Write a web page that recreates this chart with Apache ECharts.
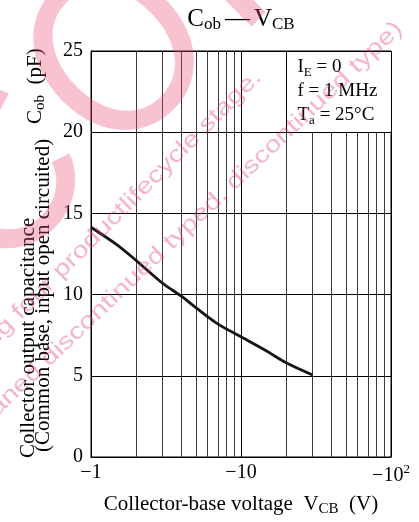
<!DOCTYPE html>
<html><head><meta charset="utf-8">
<script src="https://cdn.jsdelivr.net/npm/echarts@6/dist/echarts.min.js"></script>
<style>html,body{margin:0;padding:0;background:#fff}#c{width:419px;height:522px}</style>
</head><body><div id="c"></div>
<script>
// ---- data ----
const vcb = [1, 1.5, 2, 3, 4, 5, 7, 10, 15, 20, 30];          // |V_CB| (V)
const cob = [14.15, 13.05, 12.1, 10.7, 9.9, 9.2, 8.2, 7.4, 6.5, 5.8, 5.05]; // pF
const yTickLabels = ['0', '5', '10', '15', '20', '25'];
const xTickLabels = ['−1', '−10', '−10'];
const xMajor = [1, 10, 100];
const xMinor = [2, 3, 4, 5, 6, 7, 8, 9, 20, 30, 40, 50, 60, 70, 80, 90];
const conditionLines = [['I', 'E', ' = 0'], ['f = 1 MHz', '', ''], ['T', 'a', ' = 25°C']];
const boxX = [20, 100];
const boxY = [20, 25];

const SERIF = '"Liberation Serif", "Times New Roman", serif';
const GL = 91, GT = 51, GW = 300, GH = 406;

const chart = echarts.init(document.getElementById('c'), null, {renderer: 'canvas'});

const option = {
  backgroundColor: '#fff',
  animation: false,
  grid: {left: GL, top: GT, width: GW, height: GH, show: true, borderColor: '#000', borderWidth: 1, backgroundColor: 'transparent'},
  xAxis: {
    type: 'log', logBase: 10, min: 1, max: 100,
    axisLine: {show: true, lineStyle: {color: '#000', width: 1}},
    axisTick: {show: false},
    splitLine: {show: true, lineStyle: {color: '#000', width: 1}},
    axisLabel: {
      margin: 6, color: '#000', fontFamily: SERIF, fontSize: 20,
      formatter: function (v) {
        const i = xMajor.indexOf(Math.round(v));
        if (i < 0) return '';
        return i === 2 ? '{n|' + xTickLabels[i] + '}{sup|2}' : '{n|' + xTickLabels[i] + '}';
      },
      rich: {
        n: {fontFamily: SERIF, fontSize: 20, color: '#000'},
        sup: {fontFamily: SERIF, fontSize: 13, color: '#000', padding: [0, 0, 12, 0]}
      }
    }
  },
  yAxis: {
    type: 'value', min: 0, max: 25, interval: 5,
    axisLine: {show: true, lineStyle: {color: '#000', width: 1}},
    axisTick: {show: false},
    splitLine: {show: true, lineStyle: {color: '#000', width: 1}},
    axisLabel: {margin: 8, color: '#000', fontFamily: SERIF, fontSize: 20,
      formatter: function (v) { return yTickLabels[Math.round(v / 5)]; }}
  },
  series: [
    {
      type: 'line', data: [], z: 1, silent: true,
      markLine: {
        silent: true, symbol: ['none', 'none'], animation: false,
        label: {show: false},
        lineStyle: {color: '#3a3a3a', width: 1, type: 'solid'},
        emphasis: {disabled: true},
        data: xMinor.map(v => ({xAxis: v}))
      }
    },
    {
      type: 'line', z: 5, silent: true,
      data: vcb.map((x, i) => [x, cob[i]]),
      smooth: 0.3, showSymbol: false,
      lineStyle: {color: '#161616', width: 2.8}
    }
  ]
};
chart.setOption(option);

const p1 = chart.convertToPixel({gridIndex: 0}, [boxX[0], boxY[1]]);
const p2 = chart.convertToPixel({gridIndex: 0}, [boxX[1], boxY[0]]);
const bx = Math.round(p1[0]) + 0.5, by = Math.round(p1[1]) + 0.5;
const bw = Math.round(p2[0]) - Math.round(p1[0]), bh = Math.round(p2[1]) - Math.round(p1[1]);

const subRich = (fs, sub, pad) => ({
  m: {fontFamily: SERIF, fontSize: fs, fill: '#000', color: '#000'},
  s: {fontFamily: SERIF, fontSize: sub, fill: '#000', color: '#000', padding: [pad, 0, 0, 0]},
  d: {fontFamily: SERIF, fontSize: fs, fill: '#000', color: '#000', padding: [0, 4, 0, 4]}
});
const rt = (parts) => '{m|' + parts[0] + '}' + (parts[1] ? '{s|' + parts[1] + '}' : '') + (parts[2] ? '{m|' + parts[2] + '}' : '');

const graphics = [];
// condition box
graphics.push({type: 'rect', z: 20, silent: true, shape: {x: bx, y: by, width: bw, height: bh},
  style: {fill: '#fff', stroke: '#000', lineWidth: 1}});
conditionLines.forEach((ln, i) => {
  graphics.push({type: 'text', z: 21, silent: true, x: bx + 11, y: by + 16 + i * 24,
    style: {text: rt(ln), rich: subRich(19, 13, 10), textAlign: 'left', textVerticalAlign: 'middle'}});
});
// title
graphics.push({type: 'text', z: 21, silent: true, x: GL + GW / 2, y: 19,
  style: {text: '{m|C}{s|ob}{d|—}{m|V}{s|CB}', rich: subRich(25, 17, 12), textAlign: 'center', textVerticalAlign: 'middle'}});
// x axis name
graphics.push({type: 'text', z: 21, silent: true, x: GL + GW / 2, y: 504,
  style: {text: '{m|Collector-base voltage  V}{s|CB}{m|  (V)}', rich: subRich(21, 15, 10), textAlign: 'center', textVerticalAlign: 'middle'}});
// y axis name (rotated)
graphics.push({type: 'text', z: 21, silent: true, x: 28, y: 458, rotation: Math.PI / 2,
  style: {text: 'Collector output capacitance', font: '21px ' + SERIF, fill: '#000', textAlign: 'left', textVerticalAlign: 'middle'}});
graphics.push({type: 'text', z: 21, silent: true, x: 43, y: 452, rotation: Math.PI / 2,
  style: {text: '(Common base, input open circuited)', font: '21px ' + SERIF, fill: '#000', textAlign: 'left', textVerticalAlign: 'middle'}});
graphics.push({type: 'text', z: 21, silent: true, x: 35, y: 124, rotation: Math.PI / 2,
  style: {text: '{m|C}{s|ob}{m|  (pF)}', rich: subRich(21, 15, 10), textAlign: 'left', textVerticalAlign: 'middle'}});

// watermark: big word placed so that its "o" sits at the top-left
const bigFont = '300 300px Inter, "Liberation Sans", sans-serif';
const mctx = document.createElement('canvas').getContext('2d');
mctx.font = bigFont;
const wDisc = mctx.measureText('Disc').width, wo = mctx.measureText('o').width;
const th = Math.PI / 4, ux = Math.cos(th), uy = -Math.sin(th), nx = -Math.sin(th), ny = -Math.cos(th);
const along = wDisc + wo / 2, up = -18;
const Ox = 120, Oy = 56;
const Px = Ox - along * ux - up * nx, Py = Oy - along * uy - up * ny;
const WM = 'rgba(230,60,100,0.38)';
graphics.push({type: 'text', z: 50, silent: true, x: Px, y: Py, rotation: th,
  style: {text: 'Discontinued', font: bigFont, fill: 'rgba(235,70,105,0.33)', textAlign: 'left', textVerticalAlign: 'middle'}});
graphics.push({type: 'text', z: 50, silent: true, x: 266, y: 82, rotation: Math.PI / 4, scaleX: 1.25,
  style: {text: 'Maintenance/Discontinued includes following four productlifecycle stage.', font: '23px "Liberation Sans", sans-serif', fill: WM, textAlign: 'right', textVerticalAlign: 'bottom'}});
graphics.push({type: 'text', z: 50, silent: true, x: 407, y: 34, rotation: Math.PI * 0.242, scaleX: 1.25,
  style: {text: '(planed maintenance type, maintenance type, planed discontinued typed, discontinued type)', font: '23px "Liberation Sans", sans-serif', fill: WM, textAlign: 'right', textVerticalAlign: 'bottom'}});

chart.setOption({graphic: graphics});
</script></body></html>
